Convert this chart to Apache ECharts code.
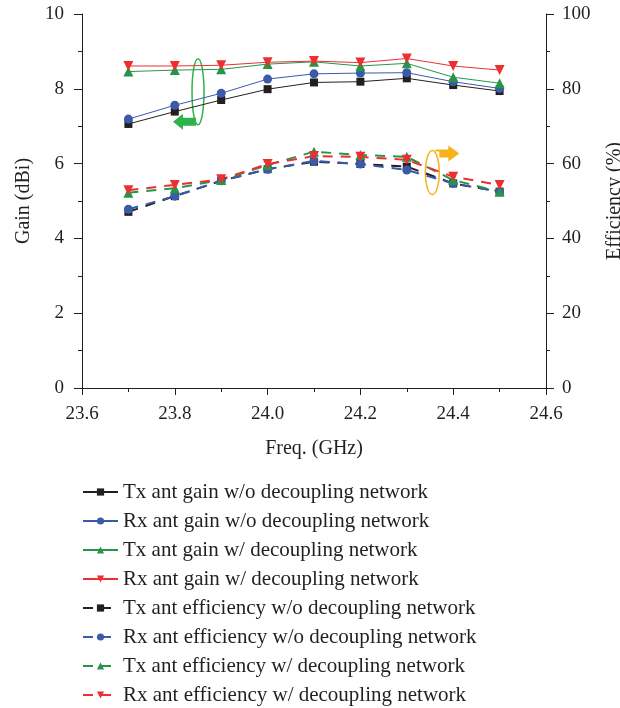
<!DOCTYPE html>
<html>
<head>
<meta charset="utf-8">
<script src="https://cdn.jsdelivr.net/npm/echarts@6/dist/echarts.min.js"></script>
<style>
  html, body { margin: 0; padding: 0; background: #fff; }
  #main { width: 620px; height: 708px; }
</style>
</head>
<body>
<div id="main"></div>
<script>
// frequency points (GHz)
var freq = [23.7, 23.8, 23.9, 24.0, 24.1, 24.2, 24.3, 24.4, 24.5];

// gain (dBi)
var txGainWo = [7.06, 7.39, 7.70, 7.99, 8.17, 8.19, 8.28, 8.10, 7.94];
var rxGainWo = [7.19, 7.56, 7.88, 8.26, 8.40, 8.42, 8.43, 8.19, 8.01];
var txGainW  = [8.46, 8.50, 8.52, 8.66, 8.72, 8.61, 8.68, 8.31, 8.15];
var rxGainW  = [8.61, 8.61, 8.63, 8.71, 8.74, 8.70, 8.81, 8.61, 8.50];

// efficiency (%)
var txEffWo = [47.1, 51.3, 55.4, 58.5, 60.5, 59.9, 59.2, 54.7, 52.5];
var rxEffWo = [47.8, 51.3, 55.4, 58.5, 60.7, 59.9, 58.3, 54.7, 52.5];
var txEffW  = [52.2, 53.4, 55.6, 59.6, 63.2, 62.3, 61.8, 55.6, 52.5];
var rxEffW  = [52.9, 54.3, 55.8, 59.9, 62.0, 61.8, 61.0, 56.5, 54.3];

var names = [
  'Tx ant gain w/o decoupling network',
  'Rx ant gain w/o decoupling network',
  'Tx ant gain w/ decoupling network',
  'Rx ant gain w/ decoupling network',
  'Tx ant efficiency w/o decoupling network',
  'Rx ant efficiency w/o decoupling network',
  'Tx ant efficiency w/ decoupling network',
  'Rx ant efficiency w/ decoupling network'
];

var font = 'Liberation Serif';
var ink = '#231f20';
var downTri = 'path://M0,0L10,0L5,9Z';

function pairs(ys) {
  return freq.map(function (f, i) { return [f, ys[i]]; });
}

function line(name, ys, yAxis, color, symbol, size, dashed) {
  return {
    name: name,
    type: 'line',
    yAxisIndex: yAxis,
    data: pairs(ys),
    symbol: symbol,
    symbolSize: size,
    lineStyle: { color: color, width: dashed ? 2 : 1, type: dashed ? [10, 8] : 'solid' },
    itemStyle: { color: color },
    emphasis: { disabled: true },
    animation: false
  };
}

var chart = echarts.init(document.getElementById('main'));

var axisText = { fontFamily: font, fontSize: 19, color: ink };
var nameText = { fontFamily: font, fontSize: 20, color: ink };

chart.setOption({
  grid: { left: 82, right: 74, top: 14, bottom: 320, outerBoundsMode: 'none' },
  legend: {
    orient: 'vertical',
    left: 77,
    top: 475,
    height: 233,
    itemWidth: 35,
    itemHeight: 9,
    itemGap: 5,
    selectedMode: false,
    textStyle: { fontFamily: font, fontSize: 21, color: ink, lineHeight: 24 },
    data: names
  },
  xAxis: [{
    type: 'value',
    min: 23.6, max: 24.6, interval: 0.2,
    name: 'Freq. (GHz)',
    nameLocation: 'middle',
    nameGap: 51,
    nameTextStyle: nameText,
    axisLine: { lineStyle: { color: ink, width: 1 } },
    axisTick: { length: 7, lineStyle: { color: ink } },
    minorTick: { show: true, splitNumber: 2, length: 4, lineStyle: { color: ink } },
    splitLine: { show: false },
    axisLabel: { margin: 17, formatter: function (v) { return v.toFixed(1); }, ...axisText }
  }, {
    type: 'value', position: 'top',
    min: 23.6, max: 24.6,
    axisLine: { show: true, lineStyle: { color: ink, width: 1 } },
    axisTick: { show: false }, axisLabel: { show: false }, splitLine: { show: false }
  }],
  yAxis: [{
    type: 'value',
    min: 0, max: 10, interval: 2,
    name: 'Gain (dBi)',
    nameLocation: 'middle',
    nameGap: 48,
    nameTextStyle: nameText,
    axisLine: { show: true, lineStyle: { color: ink, width: 1 } },
    axisTick: { show: true, length: 8, lineStyle: { color: ink } },
    minorTick: { show: true, splitNumber: 2, length: 4, lineStyle: { color: ink } },
    splitLine: { show: false },
    axisLabel: { margin: 18, ...axisText }
  }, {
    type: 'value',
    min: 0, max: 100, interval: 20,
    name: 'Efficiency (%)',
    nameLocation: 'middle',
    nameGap: 59,
    nameTextStyle: nameText,
    axisLine: { show: true, lineStyle: { color: ink, width: 1 } },
    axisTick: { show: true, length: 8, lineStyle: { color: ink } },
    minorTick: { show: true, splitNumber: 2, length: 4, lineStyle: { color: ink } },
    splitLine: { show: false },
    axisLabel: { margin: 16, ...axisText }
  }],
  series: [
    line(names[0], txGainWo, 0, ink, 'rect', 8, false),
    line(names[1], rxGainWo, 0, '#3a5ba8', 'circle', 9, false),
    line(names[2], txGainW, 0, '#26954a', 'triangle', 10, false),
    line(names[3], rxGainW, 0, '#ec2f2f', downTri, 10, false),
    line(names[4], txEffWo, 1, ink, 'rect', 8, true),
    line(names[5], rxEffWo, 1, '#3a5ba8', 'circle', 9, true),
    line(names[6], txEffW, 1, '#26954a', 'triangle', 10, true),
    line(names[7], rxEffW, 1, '#ec2f2f', downTri, 10, true)
  ]
});

// annotation ellipses and arrows, anchored to axis coordinates
var g = chart.convertToPixel({ gridIndex: 0 }, [23.85, 7.92]);
var o = chart.convertToPixel({ gridIndex: 0 }, [24.355, 5.76]);
var green = '#2db34a', orange = '#f6b21a';
chart.setOption({
  graphic: [
    { type: 'ellipse', shape: { cx: g[0], cy: g[1], rx: 6, ry: 33 },
      style: { fill: 'none', stroke: green, lineWidth: 1.5 } },
    { type: 'polygon', shape: { points: [
        [g[0] - 25, g[1] + 30], [g[0] - 15, g[1] + 22], [g[0] - 15, g[1] + 26],
        [g[0] - 2, g[1] + 26], [g[0] - 2, g[1] + 34], [g[0] - 15, g[1] + 34],
        [g[0] - 15, g[1] + 38] ] },
      style: { fill: green } },
    { type: 'ellipse', shape: { cx: o[0], cy: o[1], rx: 7, ry: 22 },
      style: { fill: 'none', stroke: orange, lineWidth: 1.5 } },
    { type: 'polygon', shape: { points: [
        [o[0] + 3, o[1] - 21], [o[0] + 3, o[1] - 23], [o[0] + 16, o[1] - 23],
        [o[0] + 16, o[1] - 27], [o[0] + 27, o[1] - 19], [o[0] + 16, o[1] - 11],
        [o[0] + 16, o[1] - 15], [o[0] + 7, o[1] - 15], [o[0] + 7, o[1] - 21] ] },
      style: { fill: orange } }
  ]
});
</script>
</body>
</html>
